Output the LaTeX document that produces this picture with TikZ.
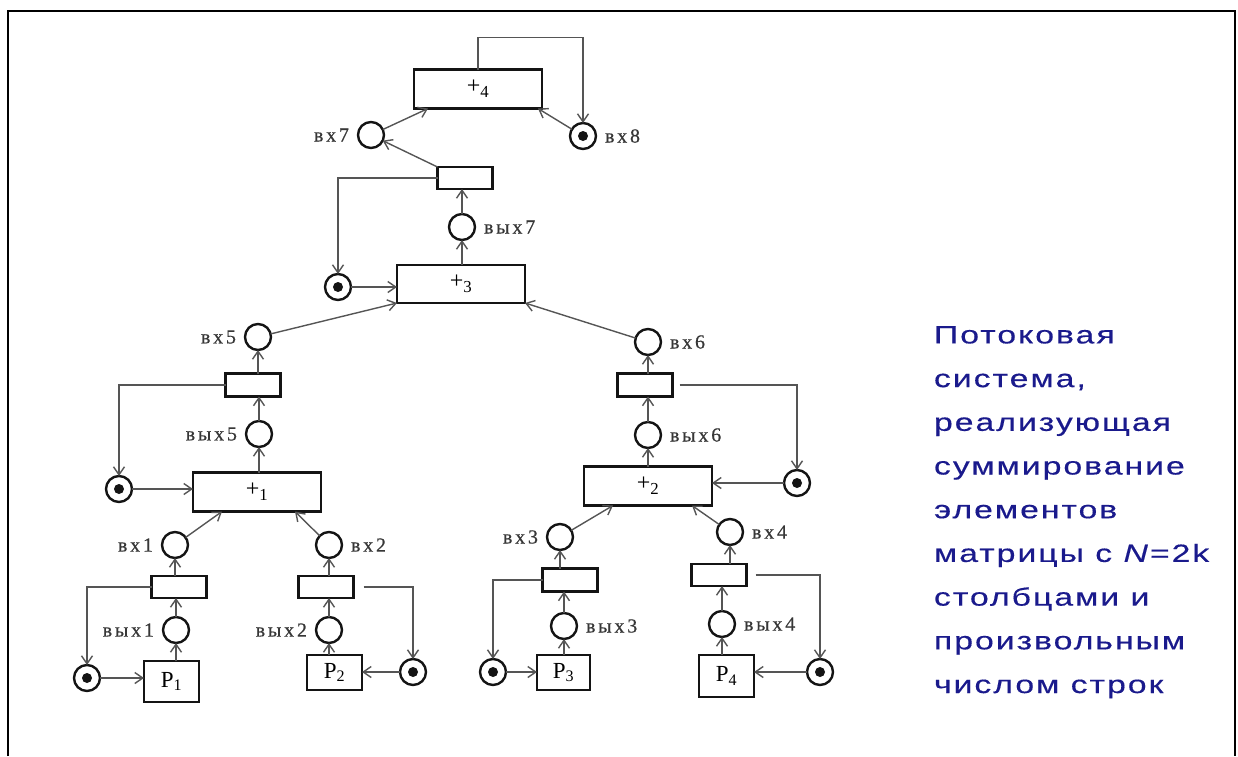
\documentclass[tikz,border=0pt]{standalone}
\usepackage{fontspec}
\setmainfont{Liberation Serif}
\newfontfamily\lblfont[LetterSpace=14,FakeBold=0.6]{Liberation Serif}
\newfontfamily\capfont[FakeStretch=1.35,LetterSpace=8,FakeBold=0.4]{Liberation Sans}
\usetikzlibrary{arrows.meta}

\definecolor{wire}{RGB}{85,85,85}
\definecolor{ink}{RGB}{20,20,20}
\definecolor{capblue}{RGB}{26,26,140}

\begin{document}
\begin{tikzpicture}[x=1pt,y=-1pt,
  every node/.style={inner sep=0pt, outer sep=0pt},
  opbox/.style={draw=ink, line width=2.7pt, minimum width=128pt, minimum height=39pt,
                font=\fontsize{24}{24}\selectfont},
  gate/.style={draw=ink, line width=2.7pt, minimum width=55pt, minimum height=22pt},
  srcbox/.style={draw=ink, line width=2.7pt, minimum width=55pt, minimum height=36pt,
                 font=\fontsize{23}{23}\selectfont},
  place/.style={draw=ink, circle, line width=2.4pt, minimum size=26pt},
  token/.style={place, path picture={\fill[ink] (path picture bounding box.center) circle (5pt);}},
  tag/.style={font=\lblfont\fontsize{20}{20}\selectfont, text=ink!85},
  every label/.style={tag},
  label distance=9pt,
  wire/.style={draw=wire, line width=1.4pt},
  flow/.style={wire, -{Straight Barb[length=8pt,width=11pt,line width=1.4pt]}},
]
\useasboundingbox (0,0) rectangle (1238,756);

% outer frame
\draw[line width=2.2pt] (8,756) -- (8,11) -- (1235,11) -- (1235,756);

% ---- top level
\node[opbox] (plus4) at (478,89) {+\textsubscript{4}};
\node[place, label=left:вх7] (vx7) at (371,135) {};
\node[token, label=right:вх8] (vx8) at (583,136) {};
\node[gate] (t7) at (465,178) {};
\node[place, label=right:вых7] (vyx7) at (462,227) {};
\node[token] (d7) at (338,287) {};
\node[opbox, minimum height=38pt] (plus3) at (461,284) {+\textsubscript{3}};

% ---- second level
\node[place, label=left:вх5] (vx5) at (258,337) {};
\node[place, label=right:вх6] (vx6) at (648,342) {};
\node[gate, minimum height=23pt] (t5) at (253,385) {};
\node[gate, minimum height=23pt] (t6) at (645,385) {};
\node[place, label=left:вых5] (vyx5) at (259,434) {};
\node[place, label=right:вых6] (vyx6) at (648,435) {};
\node[token] (d5) at (119,489) {};
\node[token] (d6) at (797,483) {};
\node[opbox] (plus1) at (257,492) {+\textsubscript{1}};
\node[opbox] (plus2) at (648,486) {+\textsubscript{2}};

% ---- third level
\node[place, label=left:вх1] (vx1) at (175,545) {};
\node[place, label=right:вх2] (vx2) at (329,545) {};
\node[place, label=left:вх3] (vx3) at (560,537) {};
\node[place, label=right:вх4] (vx4) at (730,532) {};
\node[gate] (t1) at (179,587) {};
\node[gate] (t2) at (326,587) {};
\node[gate, minimum height=23pt] (t3) at (570,580) {};
\node[gate] (t4) at (719,575) {};
\node[place, label=left:вых1] (vyx1) at (176,630) {};
\node[place, label=left:вых2] (vyx2) at (329,630) {};
\node[place, label=right:вых3] (vyx3) at (564,626) {};
\node[place, label=right:вых4] (vyx4) at (722,624) {};

% ---- sources
\node[token] (d1) at (87,678) {};
\node[token] (d2) at (413,672) {};
\node[token] (d3) at (493,672) {};
\node[token] (d4) at (820,672) {};
\node[srcbox, minimum height=41pt] (p1) at (171.5,681.5) {P\textsubscript{1}};
\node[srcbox, minimum height=35pt] (p2) at (334.5,672.5) {P\textsubscript{2}};
\node[srcbox, minimum width=53pt, minimum height=35pt] (p3) at (563.5,672.5) {P\textsubscript{3}};
\node[srcbox, minimum height=42pt] (p4) at (726.5,676) {P\textsubscript{4}};

% ---- vertical chains: source -> output place -> gate -> input place
\foreach \src/\out/\g/\inp in {p1/vyx1/t1/vx1, p2/vyx2/t2/vx2, p3/vyx3/t3/vx3, p4/vyx4/t4/vx4,
                               plus1/vyx5/t5/vx5, plus2/vyx6/t6/vx6} {
  \draw[flow] (\out |- \src.north) -- (\out);
  \draw[flow] (\out) -- (\out |- \g.south);
  \draw[flow] (\inp |- \g.north) -- (\inp);
}
\draw[flow] (vyx7 |- plus3.north) -- (vyx7);
\draw[flow] (vyx7) -- (vyx7 |- t7.south);
\draw[flow] (t7.north west) -- (vx7);

% ---- inputs of the adders
\draw[flow] (vx1) -- ([xshift=-35pt]plus1.south);
\draw[flow] (vx2) -- ([xshift=38pt]plus1.south);
\draw[flow] (vx3) -- ([xshift=-35pt]plus2.south);
\draw[flow] (vx4) -- ([xshift=44pt]plus2.south);
\draw[flow] (vx5) -- (plus3.south west);
\draw[flow] (vx6) -- (plus3.south east);
\draw[flow] (vx7) -- ([xshift=-50pt]plus4.south);
\draw[flow] (vx8) -- ([xshift=60pt]plus4.south);

% ---- feedback loops through the marked places
\draw[flow] (t1.west) -| (d1);
\draw[flow] (d1) -- (p1.west |- d1);
\draw[flow] ([xshift=10pt]t2.east) -| (d2);
\draw[flow] (d2) -- (p2.east |- d2);
\draw[flow] (t3.west) -| (d3);
\draw[flow] (d3) -- (p3.west |- d3);
\draw[flow] ([xshift=9pt]t4.east) -| (d4);
\draw[flow] (d4) -- (p4.east |- d4);
\draw[flow] (t5.west) -| (d5);
\draw[flow] (d5) -- (plus1.west |- d5);
\draw[flow] ([xshift=7pt]t6.east) -| (d6);
\draw[flow] (d6) -- (plus2.east |- d6);
\draw[flow] (t7.west) -| (d7);
\draw[flow] (d7) -- (plus3.west |- d7);
\draw[flow] (plus4.north) -- ++(0,-32) -| (vx8);

% ---- caption (anchored on the baseline of its last line)
\node[anchor=base west, align=left, text=capblue,
      font=\capfont\fontsize{25}{43.7}\selectfont] (caption) at (934,693)
  {Потоковая\\система,\\реализующая\\суммирование\\элементов\\матрицы с \textit{N}=2k\\столбцами и\\произвольным\\числом строк};
\end{tikzpicture}
\end{document}
